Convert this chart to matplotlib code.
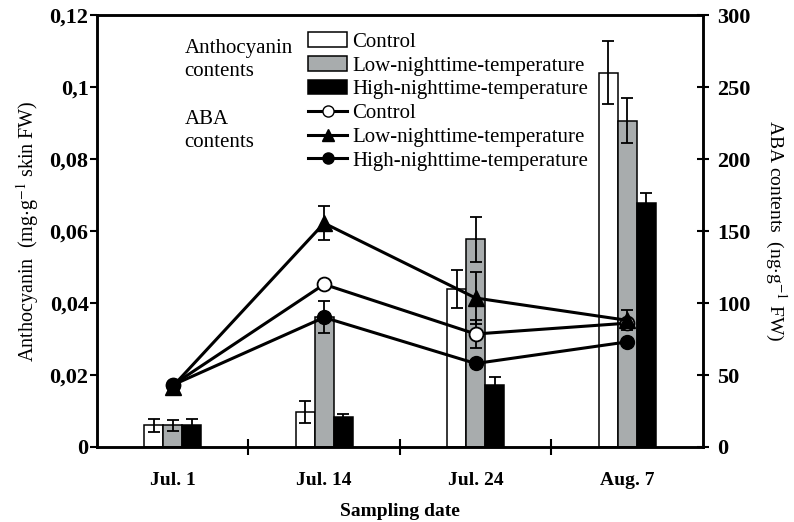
import numpy as np
import matplotlib.pyplot as plt
from matplotlib.patches import Patch
from matplotlib.lines import Line2D

plt.rcParams['font.family'] = ['Liberation Serif', 'DejaVu Serif']
plt.rcParams['mathtext.fontset'] = 'stix'

# Donnees
dates = ["Jul. 1", "Jul. 14", "Jul. 24", "Aug. 7"]

# Anthocyanes (mg/g skin FW)
antho_ctrl = [0.006, 0.0097, 0.0439, 0.1040]
antho_ctrl_err = [0.0017, 0.0030, 0.0052, 0.0087]
antho_low = [0.006, 0.0361, 0.0577, 0.0907]
antho_low_err = [0.0015, 0.0045, 0.0062, 0.0063]
antho_high = [0.006, 0.0083, 0.0172, 0.0678]
antho_high_err = [0.0017, 0.0010, 0.0022, 0.0029]

# ABA (ng/g FW)
aba_ctrl = [43, 113, 78.5, 86]
aba_ctrl_err = [0, 0, 10, 0]
aba_low = [42, 155.5, 103.5, 88]
aba_low_err = [0, 12, 18, 7]
aba_high = [43, 90, 58, 73]
aba_high_err = [0, 0, 0, 0]

gris = '#a8acad'
x = np.arange(len(dates))
w = 0.125

fig = plt.figure(figsize=(7.94, 5.22), dpi=100)
ax = fig.add_axes([0.122, 0.1437, 0.7632, 0.8273])
ax2 = ax.twinx()

# Barres
ekw = dict(ecolor='black', capsize=4, error_kw=dict(elinewidth=1.3, capthick=1.3))
ax.bar(x - w, antho_ctrl, w, yerr=antho_ctrl_err, color='white', edgecolor='black', linewidth=1.1, **ekw)
ax.bar(x, antho_low, w, yerr=antho_low_err, color=gris, edgecolor='black', linewidth=1.1, **ekw)
ax.bar(x + w, antho_high, w, yerr=antho_high_err, color='black', edgecolor='black', linewidth=1.1, **ekw)

# Courbes ABA
lkw = dict(color='black', lw=2.2, capsize=4, elinewidth=1.3, capthick=1.3)
ax2.errorbar(x, aba_ctrl, yerr=aba_ctrl_err, marker='o', ms=10, mfc='white', mec='black', mew=1.3, **lkw)
ax2.errorbar(x, aba_low, yerr=aba_low_err, marker='^', ms=11, mfc='black', mec='black', **lkw)
ax2.errorbar(x, aba_high, yerr=aba_high_err, marker='o', ms=10, mfc='black', mec='black', **lkw)

ax.set_xlim(-0.5, 3.5)
ax.set_ylim(0, 0.12)
ax2.set_ylim(0, 300)

ax.set_yticks([0, 0.02, 0.04, 0.06, 0.08, 0.1, 0.12])
ax.set_yticklabels(["0", "0,02", "0,04", "0,06", "0,08", "0,1", "0,12"])
ax2.set_yticks([0, 50, 100, 150, 200, 250, 300])

ax.set_xticks(x)
ax.set_xticklabels(dates)
ax.set_xticks([0.5, 1.5, 2.5], minor=True)
ax.tick_params(axis='x', which='major', length=0, pad=18)
ax.tick_params(axis='x', which='minor', length=11, width=1.5, direction='inout')
ax.tick_params(axis='y', length=5, width=1.5, direction='out', pad=1)
ax2.tick_params(axis='y', length=9, width=1.5, direction='inout', pad=6)

for t in ax.get_xticklabels():
    t.set_fontweight('bold')
    t.set_fontsize(14)
for t in ax.get_yticklabels() + ax2.get_yticklabels():
    t.set_fontweight('bold')
    t.set_fontsize(16)

for a in (ax, ax2):
    for s in a.spines.values():
        s.set_linewidth(1.8)

ax.set_ylabel(r"Anthocyanin  (mg$\cdot$g$^{-1}$ skin FW)", fontsize=14.5, labelpad=6)
ax2.set_ylabel(r"ABA contents  (ng$\cdot$g$^{-1}$ FW)", fontsize=14, rotation=270, labelpad=27)
ax.set_xlabel("Sampling date", fontsize=14, fontweight='bold', labelpad=10)

# Legende
handles = [
    Patch(facecolor='white', edgecolor='black', linewidth=1.1),
    Patch(facecolor=gris, edgecolor='black', linewidth=1.1),
    Patch(facecolor='black', edgecolor='black', linewidth=1.1),
    Line2D([], [], color='black', lw=2.2, marker='o', ms=8, mfc='white', mec='black'),
    Line2D([], [], color='black', lw=2.2, marker='^', ms=9, mfc='black'),
    Line2D([], [], color='black', lw=2.2, marker='o', ms=8, mfc='black'),
]
labels = ["Control", "Low-nighttime-temperature", "High-nighttime-temperature",
          "Control", "Low-nighttime-temperature", "High-nighttime-temperature"]
ax2.legend(handles, labels, loc='upper left', bbox_to_anchor=(0.348, 0.96),
           frameon=False, fontsize=15, handlelength=1.9, handletextpad=0.25,
           labelspacing=0.2, borderpad=0, borderaxespad=0, numpoints=1)

ax.text(0.145, 0.945, "Anthocyanin\ncontents", transform=ax.transAxes, fontsize=15,
        va='top', ha='left', linespacing=1.3)
ax.text(0.145, 0.78, "ABA\ncontents", transform=ax.transAxes, fontsize=15,
        va='top', ha='left', linespacing=1.3)

plt.savefig("out.png", dpi=100)
